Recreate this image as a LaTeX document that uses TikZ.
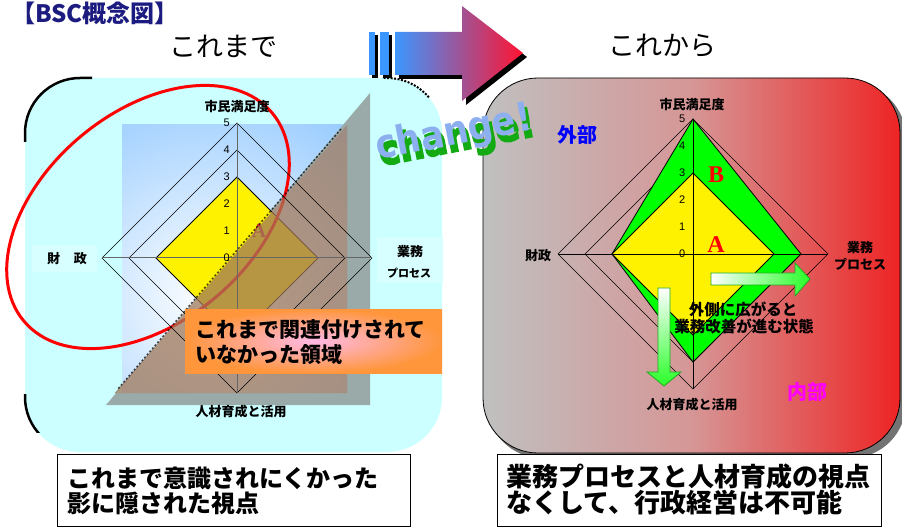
\documentclass[tikz,border=0pt]{standalone}
\usepackage{fontspec}
\setmainfont{Noto Sans CJK JP}
\newfontfamily\serifA{Liberation Serif}
\newfontfamily\numf{Liberation Sans}
\newfontfamily\chgf{DejaVu Sans}
\newfontfamily\chgfb{DejaVu Sans}[FakeBold=5]
\usetikzlibrary{calc}
\definecolor{lcyan}{RGB}{204,255,255}
\definecolor{lcyanb}{RGB}{216,255,255}
\definecolor{lblue}{RGB}{153,204,255}
\definecolor{bandgray}{RGB}{154,170,168}
\definecolor{mybrown}{RGB}{160,120,90}
\definecolor{navyt}{RGB}{28,28,128}
\definecolor{pgray}{RGB}{192,192,192}
\definecolor{pmid}{RGB}{214,150,150}
\definecolor{pred}{RGB}{238,36,36}
\definecolor{abl}{RGB}{60,150,255}
\definecolor{amid}{RGB}{190,110,180}
\definecolor{ared}{RGB}{255,20,50}
\definecolor{garr}{RGB}{40,255,40}
\definecolor{garrd}{RGB}{30,170,30}
\definecolor{orng}{RGB}{255,150,60}
\definecolor{pnk}{RGB}{255,185,230}
\definecolor{chgface}{RGB}{140,175,240}
\definecolor{chgside}{RGB}{20,170,20}
\definecolor{darkA}{RGB}{200,40,40}
\definecolor{pgreen}{RGB}{0,255,0}
\definecolor{mag}{RGB}{255,0,255}
\tikzset{
  lbl/.style={font=\bfseries\fontsize{13}{13}\selectfont, inner sep=0pt},
  lblsm/.style={font=\bfseries\fontsize{11}{11}\selectfont, inner sep=0pt},
  ticklbl/.style={font=\numf\fontsize{11}{11}\selectfont, inner sep=0pt},
  gridline/.style={draw=black, line width=0.6pt},
  serifbig/.style={font=\serifA\bfseries\fontsize{24}{24}\selectfont, inner sep=0pt, text=red},
  bigtxt/.style={font=\bfseries\fontsize{#1}{#1}\selectfont, inner sep=0pt},
  chgtxt/.style={rotate=11, inner sep=0pt},
  textbox/.style={draw=black, fill=white, line width=1pt, inner sep=0pt, anchor=north west},
  greenarrow/.style={draw=garrd, line width=0.8pt}
}
\begin{document}
\begin{tikzpicture}[x=1pt,y=-1pt]
\useasboundingbox (0,0) rectangle (902,529);
\fill[white] (0,0) rectangle (902,529);

% title and headings
\node[text=navyt, font=\bfseries\fontsize{24}{24}\selectfont, anchor=west, inner sep=0pt] (title) at (11,13) {【BSC概念図】};
\node[font=\fontsize{27}{27}\selectfont, inner sep=0pt] (h1) at (223,46) {これまで};
\node[font=\fontsize{27}{27}\selectfont, inner sep=0pt] (h2) at (662,46) {これから};

% ---------- left panel ----------
\fill[lcyan, rounded corners=55pt] (25,78) rectangle (442,452);
\begin{scope}
  \clip (0,0) rectangle (92,142);
  \draw[line width=2.5pt, rounded corners=55pt] (25,78) rectangle (442,452);
\end{scope}
\begin{scope}
  \clip (382,60) rectangle (460,98);
  \draw[line width=2pt, dash pattern=on 2pt off 1.5pt, rounded corners=55pt] (25,78) rectangle (442,452);
\end{scope}
\begin{scope}
  \clip (10,394) rectangle (40,432);
  \draw[line width=2.5pt, rounded corners=55pt] (25,78) rectangle (442,452);
\end{scope}

% blue rectangle with glow
\fill[lblue] (122,125) rectangle (347,393);
\begin{scope}
  \clip (122,125) rectangle (347,393);
  \shade[inner color=white, outer color=lblue] (210,300) circle (220pt);
\end{scope}
% gray shadow band
\fill[bandgray, even odd rule] (370,93) -- (370,405) -- (106,405) -- cycle
  (347,125) -- (347,393) -- (115,393) -- cycle;

% label backgrounds
\fill[lcyanb] (32,245) rectangle (97,272);
\fill[lcyanb] (377,237) rectangle (443,283);

% left chart: yellow diamond
\begin{scope}[shift={(237pt,-258pt)}, x=27pt, y=27pt]
  \filldraw[fill=yellow, draw=black, line width=0.8pt] (0,3) -- (3,0) -- (0,-3) -- (-3,0) -- cycle;
\end{scope}

% red ellipse and A
\draw[red, line width=3pt, rotate around={40:(148,217)}] (148,217) ellipse [x radius=162, y radius=105];
\node[font=\serifA\bfseries\fontsize{20}{20}\selectfont, text=darkA, inner sep=0pt] (A1) at (259,231) {A};

% brown triangle
\fill[mybrown, fill opacity=0.75] (347,125) -- (347,393) -- (115,393) -- cycle;
\draw[black, opacity=0.7, line width=1.5pt, dash pattern=on 2pt off 2pt] (341,129) -- (117,390);

% left chart grid
\begin{scope}[shift={(237pt,-258pt)}, x=27pt, y=27pt]
  \draw[gridline] (0,5) -- (5,0) -- (0,-5) -- (-5,0) -- cycle;
  \draw[gridline] (0,4) -- (4,0) -- (0,-4) -- (-4,0) -- cycle;
  \draw[black!60, line width=1pt] (0,5) -- (0,-5);
  \draw[black!60, line width=1pt] (-5,0) -- (5,0);
  \foreach \i in {0,...,5} \node[ticklbl] (lt\i) at (-0.38,\i) {\i};
\end{scope}

% left labels
\node[lbl] (ltop) at (237,107) {市民満足度};
\node[lbl] (lfin) at (67,259) {財\hspace{14pt}政};
\node[lbl] (lbus1) at (410,252) {業務};
\node[lblsm] (lbus2) at (409,273) {プロセス};
\node[lbl] (lbot) at (241,412) {人材育成と活用};

% orange box
\shade[inner color=pnk, outer color=orng] (185,309) rectangle (442,373);
\node[bigtxt=21, anchor=west] (o1) at (195,330) {これまで関連付けされて};
\node[bigtxt=21, anchor=west] (o2) at (195,355) {いなかった領域};

% ---------- right panel ----------
\fill[black!55, rounded corners=55pt] (487,83) rectangle (906,458);
\shadedraw[left color=pgray, right color=pred, middle color=pmid, draw=black, line width=0.8pt, rounded corners=55pt] (483,78) rectangle (900,453);

\begin{scope}[shift={(693pt,-254pt)}, x=27pt, y=27pt]
  \draw[gridline] (0,5) -- (5,0) -- (0,-5) -- (-5,0) -- cycle;
  \draw[gridline] (0,4) -- (4,0) -- (0,-4) -- (-4,0) -- cycle;
  \filldraw[fill=pgreen, draw=black, line width=0.8pt] (0,5) -- (4,0) -- (0,-4) -- (-3,0) -- cycle;
  \filldraw[fill=yellow, draw=black, line width=0.8pt] (0,3) -- (3,0) -- (0,-3) -- (-3,0) -- cycle;
  \draw[black, line width=0.8pt] (0,5) -- (0,-5);
  \draw[black, line width=0.8pt] (-5,0) -- (5,0);
  \foreach \i in {0,...,5} \node[ticklbl] (rt\i) at (-0.4,\i) {\i};
\end{scope}

\node[lbl] (rtop) at (692,105) {市民満足度};
\node[lbl] (rfin) at (538,256) {財政};
\node[lbl] (rbus1) at (860,248) {業務};
\node[lbl] (rbus2) at (860,264) {プロセス};
\node[lbl] (rbot) at (692,405) {人材育成と活用};
\node[bigtxt=20, text=blue] (gai) at (577,135) {外部};
\node[bigtxt=20, text=mag] (nai) at (807,392) {内部};
\node[serifbig] (B) at (716,175) {B};
\node[serifbig] (A2) at (716,245) {A};

% green arrows
\shadedraw[greenarrow, left color=white, right color=garr] (711,273) -- (795,273) -- (795,263) -- (810,279) -- (795,296) -- (795,285) -- (711,285) -- cycle;
\shadedraw[greenarrow, top color=white, bottom color=garr] (658,288) -- (670,288) -- (670,372) -- (681,372) -- (664,386) -- (647,372) -- (658,372) -- cycle;

\node[bigtxt=15.5] (t1) at (743,309) {外側に広がると};
\node[bigtxt=15.5] (t2) at (744,326) {業務改善が進む状態};

% ---------- bottom boxes ----------
\node[textbox, minimum width=353pt, minimum height=72pt] (bx1) at (57,454) {};
\node[bigtxt=24, anchor=west] (b1) at (67,478) {これまで意識されにくかった};
\node[bigtxt=24, anchor=west] (b2) at (67,503) {影に隠された視点};
\node[textbox, minimum width=384pt, minimum height=72pt] (bx2) at (497,454) {};
\node[bigtxt=26, anchor=west] (b3) at (506,477) {業務プロセスと人材育成の視点};
\node[bigtxt=26, anchor=west] (b4) at (506,503) {なくして、行政経営は不可能};

% ---------- big arrow ----------
\fill[black] (399,36) -- (466,36) -- (466,10) -- (527,57) -- (466,105) -- (466,79) -- (399,79) -- cycle;
\fill[black] (372,35) rectangle (378,78);
\fill[black] (383,35) rectangle (392,78);
\shade[left color=abl, middle color=amid, right color=ared] (395,32) -- (462,32) -- (462,6) -- (523,53) -- (462,101) -- (462,75) -- (395,75) -- cycle;
\fill[abl] (369,32) rectangle (375,75);
\fill[abl] (380,32) rectangle (389,75);

% ---------- change! ----------
\node[chgtxt, text=chgside, font=\chgfb\bfseries\fontsize{40}{40}\selectfont] (chs) at (457,140) {\scalebox{0.87}[1]{change!}};
\node[chgtxt, text=chgface, font=\chgf\bfseries\fontsize{40}{40}\selectfont] (chg) at (454,134) {\scalebox{0.87}[1]{change!}};
\end{tikzpicture}
\end{document}
